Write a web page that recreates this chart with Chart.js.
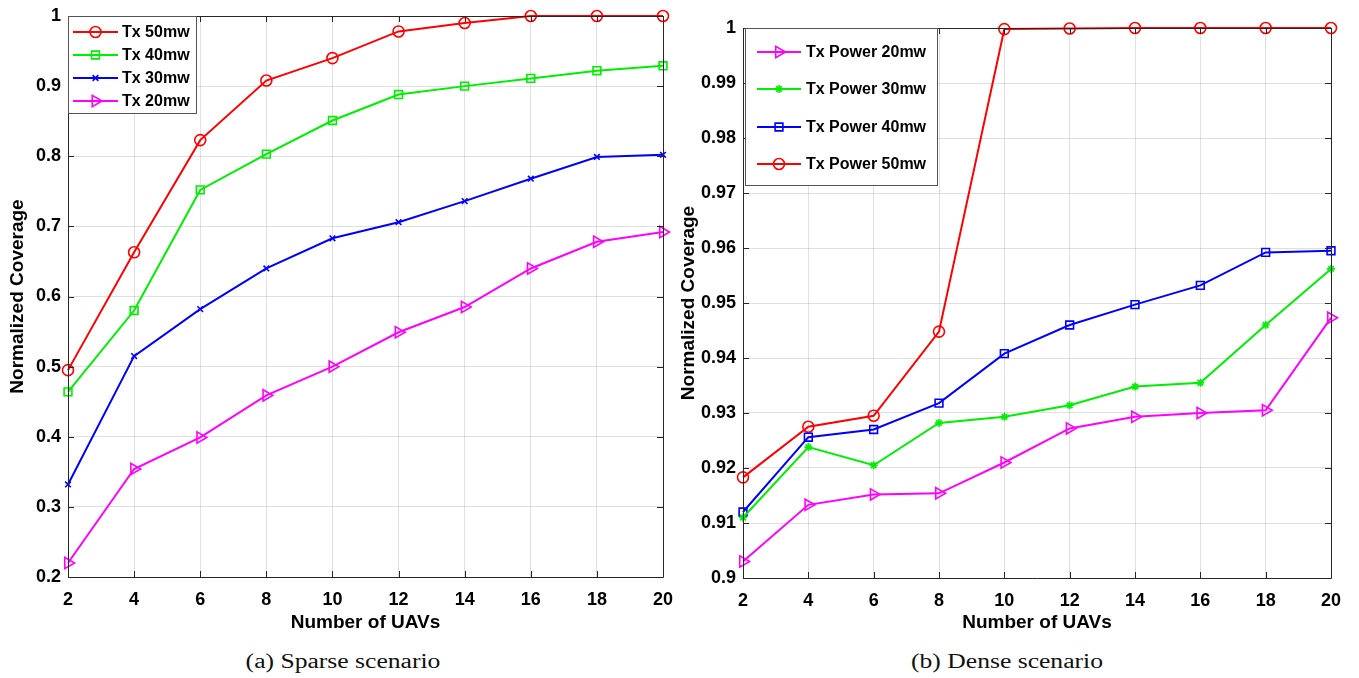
<!DOCTYPE html>
<html>
<head>
<meta charset="utf-8">
<script src="https://cdn.jsdelivr.net/npm/chart.js@4.4.1/dist/chart.umd.min.js"></script>
<style>
  body { margin: 0; background: #fff; width: 1359px; height: 678px; position: relative; overflow: hidden; }
  canvas { position: absolute; top: 0; }
  #c1 { left: 0; }
  #c2 { left: 680px; }
  .cap { position: absolute; top: 646px; font-family: "Liberation Serif", "Times New Roman", serif; font-size: 20px; line-height: 30px; color: #111; transform: translateX(-50%) scaleX(1.28); white-space: nowrap; }
</style>
</head>
<body>
<canvas id="c1" width="680" height="645"></canvas>
<canvas id="c2" width="679" height="645"></canvas>
<div class="cap" style="left:343px">(a) Sparse scenario</div>
<div class="cap" style="left:1007px">(b) Dense scenario</div>
<script>
// x values (number of UAVs)
const uavs = [2, 4, 6, 8, 10, 12, 14, 16, 18, 20];

// (a) sparse scenario
const sparse50 = [0.495, 0.663, 0.823, 0.908, 0.940, 0.978, 0.990, 1.000, 1.000, 1.000];
const sparse40 = [0.464, 0.580, 0.752, 0.803, 0.851, 0.888, 0.900, 0.911, 0.922, 0.929];
const sparse30 = [0.332, 0.515, 0.582, 0.640, 0.683, 0.706, 0.736, 0.768, 0.799, 0.802];
const sparse20 = [0.220, 0.354, 0.399, 0.459, 0.500, 0.549, 0.585, 0.640, 0.678, 0.692];

// (b) dense scenario
const dense20 = [0.9030, 0.9133, 0.9152, 0.9154, 0.9210, 0.9272, 0.9293, 0.9300, 0.9305, 0.9473];
const dense30 = [0.9110, 0.9238, 0.9205, 0.9282, 0.9293, 0.9314, 0.9348, 0.9355, 0.9460, 0.9562];
const dense40 = [0.9120, 0.9256, 0.9270, 0.9318, 0.9408, 0.9460, 0.9497, 0.9532, 0.9592, 0.9595];
const dense50 = [0.9183, 0.9275, 0.9295, 0.9448, 0.9998, 0.9999, 1.0000, 1.0000, 1.0000, 1.0000];

const FONT = '"Liberation Sans", Arial, Helvetica, sans-serif';
const AXIS = '#262626';

function pts(arr) {
  return uavs.map((x, i) => ({ x: x, y: arr[i] }));
}

function series(label, arr, color, style, radius, rotation) {
  return {
    label: label,
    data: pts(arr),
    borderColor: color,
    backgroundColor: 'transparent',
    borderWidth: 2,
    pointStyle: style,
    pointRadius: radius,
    pointHoverRadius: radius,
    pointRotation: rotation || 0,
    pointBorderColor: color,
    pointBackgroundColor: 'transparent',
    pointBorderWidth: 1.6,
    tension: 0,
    clip: false
  };
}

// box frame + inward tick marks like MATLAB
const framePlugin = {
  id: 'frame',
  afterDatasetsDraw(chart) {
    const ctx = chart.ctx;
    const a = chart.chartArea;
    const xs = chart.scales.x, ys = chart.scales.y;
    ctx.save();
    ctx.strokeStyle = AXIS;
    ctx.lineWidth = 1;
    ctx.beginPath();
    ctx.rect(Math.round(a.left) + 0.5, Math.round(a.top) + 0.5, Math.round(a.right - a.left), Math.round(a.bottom - a.top));
    const len = 6;
    xs.ticks.forEach(t => {
      const px = Math.round(xs.getPixelForValue(t.value)) + 0.5;
      ctx.moveTo(px, a.bottom); ctx.lineTo(px, a.bottom - len);
      ctx.moveTo(px, a.top); ctx.lineTo(px, a.top + len);
    });
    ys.ticks.forEach(t => {
      const py = Math.round(ys.getPixelForValue(t.value)) + 0.5;
      ctx.moveTo(a.left, py); ctx.lineTo(a.left + len, py);
      ctx.moveTo(a.right, py); ctx.lineTo(a.right - len, py);
    });
    ctx.stroke();
    ctx.restore();
  }
};

// legend drawn inside the axes
const boxLegendPlugin = {
  id: 'boxLegend',
  afterDraw(chart, args, o) {
    const ctx = chart.ctx;
    ctx.save();
    ctx.fillStyle = '#fff';
    ctx.fillRect(o.x, o.y, o.w, o.h);
    ctx.strokeStyle = '#555';
    ctx.lineWidth = 1;
    ctx.strokeRect(o.x + 0.5, o.y + 0.5, o.w, o.h);
    ctx.font = 'bold ' + o.fontSize + 'px ' + FONT;
    ctx.textBaseline = 'middle';
    o.order.forEach((di, k) => {
      const ds = chart.data.datasets[di];
      const y = o.rowY[k];
      ctx.strokeStyle = ds.borderColor;
      ctx.lineWidth = 2;
      ctx.beginPath();
      ctx.moveTo(o.lineX0, y); ctx.lineTo(o.lineX1, y);
      ctx.stroke();
      ctx.lineWidth = ds.pointBorderWidth;
      ctx.fillStyle = 'transparent';
      Chart.helpers.drawPoint(ctx, {
        pointStyle: ds.pointStyle, radius: ds.pointRadius,
        rotation: ds.pointRotation, borderWidth: ds.pointBorderWidth
      }, (o.lineX0 + o.lineX1) / 2, y);
      ctx.fillStyle = '#000';
      ctx.fillText(ds.label, o.textX, y + 1);
    });
    ctx.restore();
  }
};

function makeOptions(cfg) {
  return {
    responsive: false,
    animation: false,
    layout: { padding: cfg.padding },
    plugins: {
      legend: { display: false },
      tooltip: { enabled: false },
      boxLegend: cfg.legend
    },
    scales: {
      x: {
        type: 'linear', min: 2, max: 20,
        afterFit(s) { s.height = cfg.xHeight; s.paddingLeft = 0; s.paddingRight = 0; },
        border: { display: false },
        grid: { color: 'rgba(0,0,0,0.12)', drawTicks: false },
        ticks: { stepSize: 2, padding: 12, color: '#000', font: { family: FONT, size: 18, weight: 'bold' }, maxRotation: 0 },
        title: { display: true, text: 'Number of UAVs', color: '#000', padding: { top: 4, bottom: 11 }, font: { family: FONT, size: 19, weight: 'bold' } }
      },
      y: {
        min: cfg.yMin, max: 1,
        afterFit(s) { s.width = cfg.yWidth; s.paddingTop = 0; s.paddingBottom = 0; },
        border: { display: false },
        grid: { color: 'rgba(0,0,0,0.12)', drawTicks: false },
        ticks: {
          stepSize: cfg.yStep, padding: 7, color: '#000',
          font: { family: FONT, size: 18, weight: 'bold' },
          callback: v => String(Number(v.toFixed(3)))
        },
        title: { display: true, text: 'Normalized Coverage', color: '#000', padding: { top: cfg.yTitlePad, bottom: 0 }, font: { family: FONT, size: 19, weight: 'bold' } }
      }
    }
  };
}

new Chart(document.getElementById('c1'), {
  type: 'line',
  data: {
    datasets: [
      series('Tx 50mw', sparse50, '#ff0000', 'circle', 5.5),
      series('Tx 40mw', sparse40, '#00ee00', 'rect', 5.5),
      series('Tx 30mw', sparse30, '#0000ff', 'crossRot', 4),
      series('Tx 20mw', sparse20, '#ff00ff', 'triangle', 6.5, 90)
    ]
  },
  options: makeOptions({
    padding: { top: 16, right: 17, left: 0, bottom: 0 },
    xHeight: 68, yWidth: 68, yMin: 0.2, yStep: 0.1, yTitlePad: 6,
    legend: {
      x: 68, y: 16, w: 128, h: 97, fontSize: 16,
      order: [0, 1, 2, 3], rowY: [32, 55, 78, 101],
      lineX0: 73, lineX1: 118, textX: 122
    }
  }),
  plugins: [framePlugin, boxLegendPlugin]
});

new Chart(document.getElementById('c2'), {
  type: 'line',
  data: {
    datasets: [
      series('Tx Power 20mw', dense20, '#ff00ff', 'triangle', 6.5, 90),
      series('Tx Power 30mw', dense30, '#00ee00', 'star', 4),
      series('Tx Power 40mw', dense40, '#0000ff', 'rect', 5.5),
      series('Tx Power 50mw', dense50, '#ff0000', 'circle', 5.5)
    ]
  },
  options: makeOptions({
    padding: { top: 28, right: 28, left: 0, bottom: 0 },
    xHeight: 67, yWidth: 63, yMin: 0.9, yStep: 0.01, yTitlePad: -3,
    legend: {
      x: 65, y: 28, w: 192, h: 157, fontSize: 16,
      order: [0, 1, 2, 3], rowY: [52, 89, 127, 164],
      lineX0: 77, lineX1: 121, textX: 126
    }
  }),
  plugins: [framePlugin, boxLegendPlugin]
});
</script>
</body>
</html>
